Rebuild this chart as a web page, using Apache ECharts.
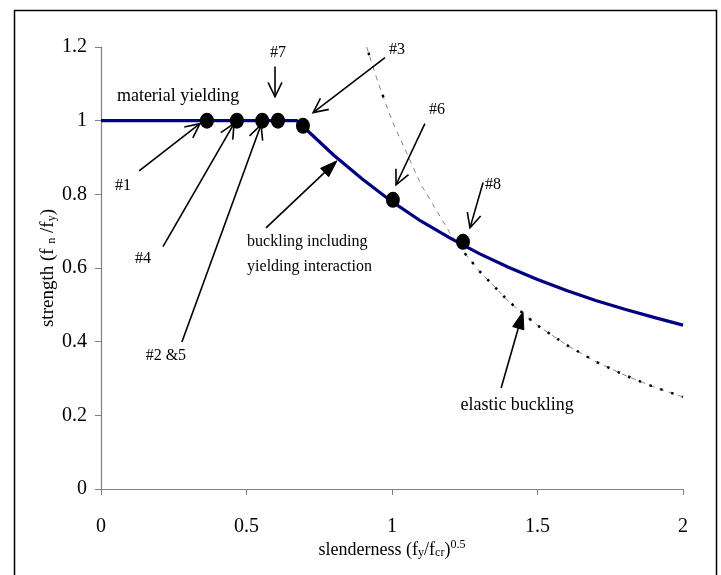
<!DOCTYPE html>
<html>
<head>
<meta charset="utf-8">
<script src="https://cdn.jsdelivr.net/npm/echarts@6/dist/echarts.min.js"></script>
<style>
html,body{margin:0;padding:0;background:#fff;}
#chart{width:721px;height:575px;}
</style>
</head>
<body>
<div id="chart"></div>
<script>
// ---- data ----
const xTicks = [0, 0.5, 1, 1.5, 2];
const yTicks = [0, 0.2, 0.4, 0.6, 0.8, 1, 1.2];

// strength curve (material yielding + buckling including yielding interaction)
const strengthX = [0, 0.673, 0.7, 0.8, 0.9, 1.0, 1.1, 1.2, 1.3, 1.4, 1.5, 1.6, 1.7, 1.8, 1.9, 2.0];
const strengthY = [1, 1, 0.98, 0.906, 0.84, 0.78, 0.727, 0.681, 0.639, 0.602, 0.569, 0.539, 0.512, 0.488, 0.466, 0.445];

// elastic buckling curve
const elasticX = [0.913, 0.95, 1.0, 1.1, 1.2, 1.25, 1.3, 1.4, 1.5, 1.6, 1.7, 1.8, 1.9, 2.0];
const elasticY = [1.2, 1.108, 1.0, 0.826, 0.694, 0.64, 0.592, 0.51, 0.444, 0.391, 0.346, 0.309, 0.277, 0.25];

// specimens
const pointX = [0.364, 0.467, 0.554, 0.608, 0.694, 1.003, 1.244];
const pointY = [1.0, 1.0, 1.0, 1.0, 0.986, 0.785, 0.671];

// annotation arrows: [fromX, fromY, toX, toY]
const openArrows = [
  [0.131, 0.864, 0.340, 0.992],
  [0.213, 0.658, 0.457, 0.992],
  [0.278, 0.399, 0.550, 0.989],
  [0.598, 1.147, 0.598, 1.065],
  [0.976, 1.171, 0.729, 1.022],
  [1.113, 0.992, 1.014, 0.826],
  [1.313, 0.832, 1.268, 0.709]
];
const filledArrows = [
  [0.567, 0.709, 0.811, 0.891],
  [1.375, 0.274, 1.450, 0.481]
];

// annotation texts: [text, x, y]
const bigLabels = [
  ['material yielding', 0.265, 1.065],
  ['elastic buckling', 1.430, 0.228]
];
const smallLabels = [
  ['#7', 0.608, 1.185],
  ['#1', 0.076, 0.824],
  ['#4', 0.144, 0.625],
  ['#2 &5', 0.223, 0.361],
  ['#3', 1.017, 1.193],
  ['#6', 1.155, 1.030],
  ['#8', 1.347, 0.826]
];
const leftLabels = [
  ['buckling including\nyielding interaction', 0.502, 0.637]
];

// ---- chart ----
const FONT = '"Liberation Serif", "Times New Roman", serif';
const zip = (a, b) => a.map((v, i) => [v, b[i]]);
const elasticAll = zip(elasticX, elasticY);
const elasticUpper = elasticAll.filter(p => p[0] <= 1.0);
const elasticLower = elasticAll.filter(p => p[0] >= 1.25);

function arrowRender(filled) {
  return function (params, api) {
    const p1 = api.coord([api.value(0), api.value(1)]);
    const p2 = api.coord([api.value(2), api.value(3)]);
    const ang = Math.atan2(p2[1] - p1[1], p2[0] - p1[0]);
    const L = filled ? 18 : 16;
    const th = filled ? 0.33 : 0.45;
    const w1 = [p2[0] - L * Math.cos(ang - th), p2[1] - L * Math.sin(ang - th)];
    const w2 = [p2[0] - L * Math.cos(ang + th), p2[1] - L * Math.sin(ang + th)];
    const children = [];
    if (filled) {
      const base = [p2[0] - L * 0.9 * Math.cos(ang), p2[1] - L * 0.9 * Math.sin(ang)];
      children.push({ type: 'line', shape: { x1: p1[0], y1: p1[1], x2: base[0], y2: base[1] },
        style: { stroke: '#000', lineWidth: 1.6 } });
      children.push({ type: 'polygon', shape: { points: [p2, w1, w2] },
        style: { fill: '#000', stroke: '#000', lineWidth: 1 } });
    } else {
      children.push({ type: 'line', shape: { x1: p1[0], y1: p1[1], x2: p2[0], y2: p2[1] },
        style: { stroke: '#000', lineWidth: 1.6 } });
      children.push({ type: 'polyline', shape: { points: [w1, p2, w2] },
        style: { stroke: '#000', lineWidth: 1.6, fill: null } });
    }
    return { type: 'group', children: children };
  };
}

function textRender(list, size, align) {
  return function (params, api) {
    const p = api.coord([api.value(0), api.value(1)]);
    return {
      type: 'text', x: p[0], y: p[1],
      style: {
        text: list[params.dataIndex][0],
        font: size + 'px ' + FONT,
        fill: '#000',
        align: align,
        verticalAlign: 'middle',
        lineHeight: 25
      }
    };
  };
}

const chart = echarts.init(document.getElementById('chart'), null, { renderer: 'canvas' });
chart.setOption({
  backgroundColor: '#fff',
  animation: false,
  textStyle: { fontFamily: FONT },
  graphic: [{
    type: 'rect', left: 12, top: 8,
    shape: { width: 702, height: 600 },
    style: { fill: null, stroke: '#000', lineWidth: 1.5 },
    z: 100, silent: true
  }],
  grid: { left: 101, right: 38, top: 47, bottom: 86, containLabel: false },
  xAxis: {
    type: 'value', min: xTicks[0], max: xTicks[xTicks.length - 1], interval: 0.5,
    splitLine: { show: false },
    axisLine: { lineStyle: { color: '#808080', width: 1.2 } },
    axisTick: { inside: false, length: 6, lineStyle: { color: '#808080' } },
    axisLabel: { color: '#000', fontSize: 20, fontFamily: FONT, margin: 28 },
    name: '{t|slenderness (f}{s|y}{t|/f}{s|cr}{t|)}{p|0.5}',
    nameLocation: 'middle', nameGap: 50, nameMoveOverlap: false,
    nameTextStyle: {
      rich: {
        t: { fontSize: 18, fontFamily: FONT, color: '#000', verticalAlign: 'bottom', lineHeight: 20 },
        s: { fontSize: 12, fontFamily: FONT, color: '#000', verticalAlign: 'bottom', lineHeight: 16 },
        p: { fontSize: 12, fontFamily: FONT, color: '#000', verticalAlign: 'top', lineHeight: 12, padding: [0, 0, 14, 0] }
      }
    }
  },
  yAxis: {
    type: 'value', min: yTicks[0], max: yTicks[yTicks.length - 1], interval: 0.2,
    splitLine: { show: false },
    axisLine: { show: true, lineStyle: { color: '#808080', width: 1.2 } },
    axisTick: { show: true, inside: false, length: 6, lineStyle: { color: '#808080' } },
    axisLabel: { color: '#000', fontSize: 20, fontFamily: FONT, margin: 14 },
    name: '{t|strength (f }{s|n}{t| /f}{s|y}{t|)}',
    nameLocation: 'middle', nameGap: 43, nameRotate: 90, nameMoveOverlap: false,
    nameTextStyle: {
      rich: {
        t: { fontSize: 19, fontFamily: FONT, color: '#000', verticalAlign: 'bottom', lineHeight: 22 },
        s: { fontSize: 12, fontFamily: FONT, color: '#000', verticalAlign: 'bottom', lineHeight: 18 }
      }
    }
  },
  series: [
    {
      type: 'line', data: elasticAll, symbol: 'none', silent: true,
      lineStyle: { color: '#666', width: 0.8, type: [5, 5] }, z: 2
    },
    {
      type: 'line', data: elasticUpper, symbol: 'none', silent: true,
      lineStyle: { color: '#000', width: 2.5, type: [2.5, 42], dashOffset: -6 }, z: 2
    },
    {
      type: 'line', data: elasticLower, symbol: 'none', silent: true,
      lineStyle: { color: '#000', width: 2.5, type: [2.5, 9] }, z: 2
    },
    {
      type: 'line', data: zip(strengthX, strengthY), symbol: 'none', silent: true,
      lineStyle: { color: '#000080', width: 3.2 }, z: 3
    },
    {
      type: 'scatter', data: zip(pointX, pointY), symbol: 'circle', symbolSize: [14, 16],
      itemStyle: { color: '#000', opacity: 1 }, silent: true, z: 4
    },
    {
      type: 'custom', data: openArrows, renderItem: arrowRender(false),
      encode: { x: [0, 2], y: [1, 3] }, silent: true, z: 5, clip: false
    },
    {
      type: 'custom', data: filledArrows, renderItem: arrowRender(true),
      encode: { x: [0, 2], y: [1, 3] }, silent: true, z: 5, clip: false
    },
    {
      type: 'custom', data: bigLabels.map(d => [d[1], d[2]]), renderItem: textRender(bigLabels, 18, 'center'),
      silent: true, z: 6, clip: false
    },
    {
      type: 'custom', data: smallLabels.map(d => [d[1], d[2]]), renderItem: textRender(smallLabels, 16, 'center'),
      silent: true, z: 6, clip: false
    },
    {
      type: 'custom', data: leftLabels.map(d => [d[1], d[2]]), renderItem: textRender(leftLabels, 16, 'left'),
      silent: true, z: 6, clip: false
    }
  ]
});
</script>
</body>
</html>
